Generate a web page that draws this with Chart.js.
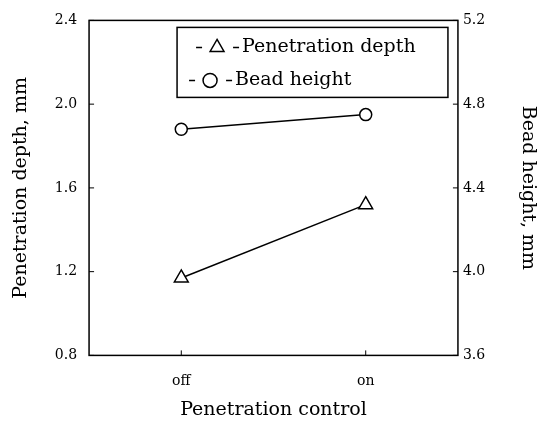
<!DOCTYPE html>
<html>
<head>
<meta charset="utf-8">
<script src="https://cdn.jsdelivr.net/npm/chart.js@4.4.1/dist/chart.umd.min.js"></script>
<style>
  html, body { margin: 0; padding: 0; background: #fff; }
  #wrap { width: 539px; height: 421px; }
</style>
</head>
<body>
<div id="wrap"><canvas id="myChart"></canvas></div>
<script>
const categories = ['off', 'on'];
const penetrationDepth = [1.17, 1.52];
const beadHeight = [4.68, 4.75];
const leftTicks = [0.8, 1.2, 1.6, 2.0, 2.4];
const rightTicks = [3.6, 4.0, 4.4, 4.8, 5.2];

const FONT = "'DejaVu Serif', serif";
Chart.defaults.font.family = FONT;
Chart.defaults.color = '#000';

// box round the plot + small ticks pointing inwards
const framePlugin = {
  id: 'frame',
  afterDraw(chart) {
    const { ctx, chartArea: a, scales } = chart;
    ctx.save();
    ctx.strokeStyle = '#000';
    ctx.lineWidth = 1.5;
    ctx.strokeRect(a.left, a.top, a.right - a.left, a.bottom - a.top);
    ctx.lineWidth = 1;
    ctx.beginPath();
    scales.x.ticks.forEach((t, i) => {
      const x = scales.x.getPixelForTick(i);
      ctx.moveTo(x, a.bottom); ctx.lineTo(x, a.bottom - 5);
    });
    leftTicks.forEach(v => {
      const y = scales.y.getPixelForValue(v);
      ctx.moveTo(a.left, y); ctx.lineTo(a.left + 5, y);
    });
    rightTicks.forEach(v => {
      const y = scales.y1.getPixelForValue(v);
      ctx.moveTo(a.right, y); ctx.lineTo(a.right - 5, y);
    });
    ctx.stroke();
    ctx.restore();
  }
};

// boxed legend inside the plot
const legendBox = {
  id: 'legendBox',
  afterDraw(chart) {
    const { ctx, chartArea: a } = chart;
    const x1 = a.left + 88, x2 = a.right - 10, y1 = a.top + 7, y2 = a.top + 77;
    ctx.save();
    ctx.strokeStyle = '#000';
    ctx.lineWidth = 1.5;
    ctx.strokeRect(x1, y1, x2 - x1, y2 - y1);
    ctx.font = '19px ' + FONT;
    ctx.textBaseline = 'middle';
    ctx.fillStyle = '#000';
    const rows = [
      { ds: chart.data.datasets[0], x0: x1 + 19, y: y1 + 20 },
      { ds: chart.data.datasets[1], x0: x1 + 12, y: y1 + 53 }
    ];
    rows.forEach(r => {
      ctx.lineWidth = 1.5;
      ctx.beginPath();
      ctx.moveTo(r.x0, r.y); ctx.lineTo(r.x0 + 6, r.y);
      ctx.moveTo(r.x0 + 37, r.y); ctx.lineTo(r.x0 + 43, r.y);
      ctx.stroke();
      ctx.fillStyle = '#fff';
      Chart.helpers.drawPoint(ctx, {
        pointStyle: r.ds.pointStyle, rotation: 0,
        radius: r.ds.pointStyle === 'triangle' ? 8 : 7, borderWidth: 1.5
      }, r.x0 + 21, r.y);
      ctx.fillStyle = '#000';
      ctx.fillText(r.ds.label, r.x0 + 46, r.y);
    });
    ctx.restore();
  }
};

const ctx1 = document.getElementById('myChart').getContext('2d');
new Chart(ctx1, {
  type: 'line',
  data: {
    labels: categories,
    datasets: [{
      label: 'Penetration depth',
      data: penetrationDepth,
      yAxisID: 'y',
      borderColor: '#000',
      borderWidth: 1.5,
      pointStyle: 'triangle',
      pointRadius: 8,
      pointBorderWidth: 1.5,
      pointBackgroundColor: '#fff',
      pointBorderColor: '#000'
    }, {
      label: 'Bead height',
      data: beadHeight,
      yAxisID: 'y1',
      borderColor: '#000',
      borderWidth: 1.5,
      pointStyle: 'circle',
      pointRadius: 6,
      pointBorderWidth: 1.5,
      pointBackgroundColor: '#fff',
      pointBorderColor: '#000'
    }]
  },
  options: {
    responsive: true,
    maintainAspectRatio: false,
    animation: false,
    layout: { padding: { top: 12, right: 0, left: 6, bottom: 0 } },
    plugins: { legend: { display: false }, tooltip: { enabled: false } },
    scales: {
      x: {
        offset: true,
        grid: { display: false, drawTicks: false },
        border: { display: false },
        ticks: { font: { size: 14 }, padding: 18 },
        title: { display: true, text: 'Penetration control', font: { size: 19 }, padding: { top: -10, bottom: 0 } }
      },
      y: {
        position: 'left',
        min: 0.8, max: 2.4,
        afterBuildTicks: s => { s.ticks = leftTicks.map(v => ({ value: v })); },
        grid: { display: false, drawTicks: false },
        border: { display: false },
        ticks: { font: { size: 14 }, padding: 12, callback: v => v.toFixed(1) },
        title: { display: true, text: 'Penetration depth, mm', font: { size: 19 }, padding: { bottom: 10 } }
      },
      y1: {
        position: 'right',
        min: 3.6, max: 5.2,
        afterBuildTicks: s => { s.ticks = rightTicks.map(v => ({ value: v })); },
        grid: { display: false, drawTicks: false },
        border: { display: false },
        ticks: { font: { size: 14 }, padding: 5, callback: v => v.toFixed(1) },
        title: { display: true, text: 'Bead height, mm', font: { size: 19 }, padding: { top: 0, bottom: 26 } }
      }
    }
  },
  plugins: [framePlugin, legendBox]
});
</script>
</body>
</html>
